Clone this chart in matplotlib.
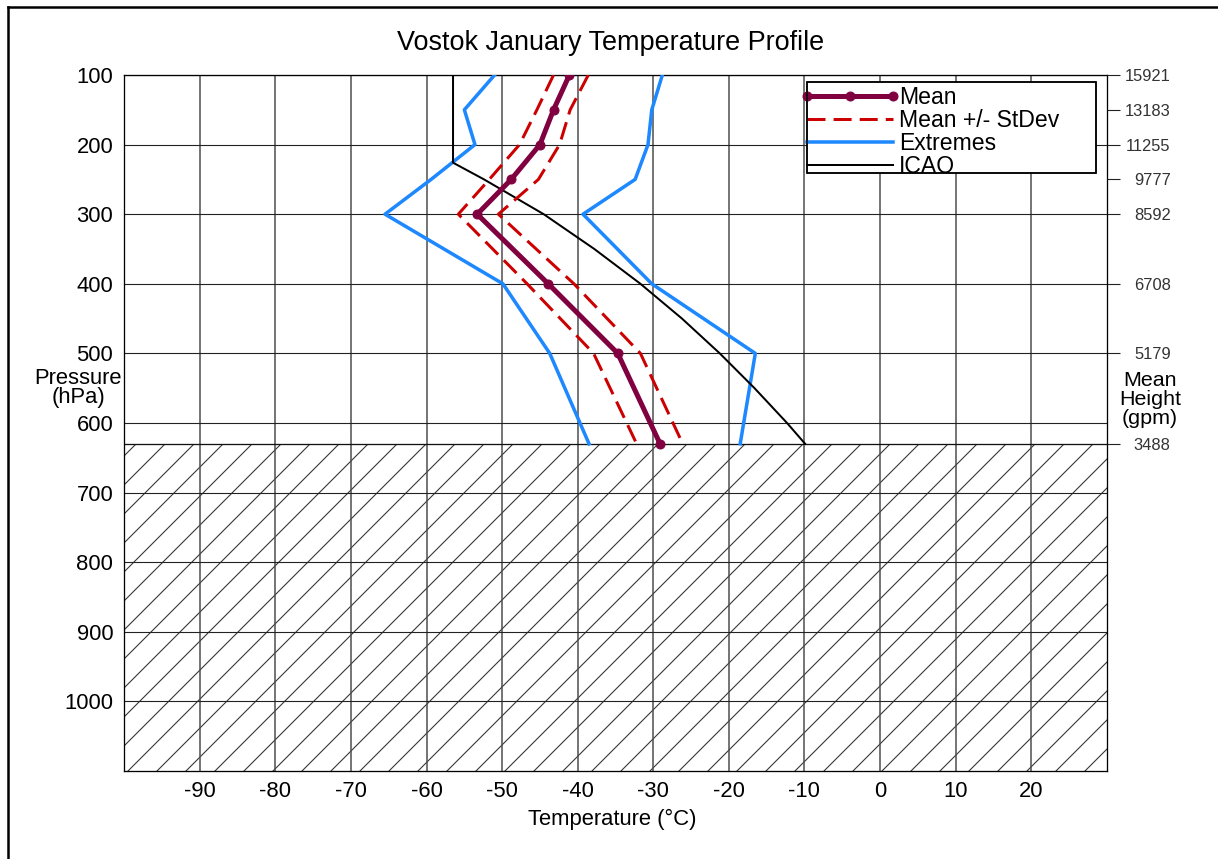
import matplotlib
matplotlib.use('Agg')
import matplotlib.pyplot as plt
from matplotlib.lines import Line2D
from matplotlib.patches import Rectangle
from matplotlib.legend_handler import HandlerLine2D
from matplotlib.transforms import Bbox, TransformedBbox

W, H = 1218, 859
DPI = 174

plt.rcParams['font.family'] = ['Liberation Sans', 'DejaVu Sans']
plt.rcParams['axes.unicode_minus'] = False
plt.rcParams['hatch.linewidth'] = 0.45
plt.rcParams['hatch.color'] = '#333333'


def pt(px):
    return px * 72.0 / DPI


# ---------------- data ----------------
levels = [100, 150, 200, 250, 300, 400, 500, 630]
height_labels = ['15921', '13183', '11255', '9777', '8592', '6708', '5179', '3488']
mean_t = [-41.1, -43.2, -45.0, -48.8, -53.3, -43.9, -34.7, -29.1]
sd_low = [-43.2, -45.4, -47.7, -51.7, -55.8, -46.7, -37.9, -32.2]
sd_high = [-38.6, -41.0, -42.4, -45.2, -50.5, -40.5, -31.7, -26.1]
ext_low = [-51.0, -55.0, -53.6, -59.4, -65.5, -49.9, -43.7, -38.5]
ext_high = [-28.8, -30.2, -30.7, -32.4, -39.3, -30.2, -16.5, -18.5]
icao_p = [100, 226, 250, 300, 350, 400, 450, 500, 550, 600, 630]
icao_t = [-56.5, -56.5, -52.4, -44.5, -37.8, -31.7, -26.2, -21.2, -16.6, -12.3, -9.9]
surface_p = 630
temp_ticks = [-90, -80, -70, -60, -50, -40, -30, -20, -10, 0, 10, 20]
pres_ticks = [100, 200, 300, 400, 500, 600, 700, 800, 900, 1000]
xlim = (-100, 30)
ylim = (1100, 100)

MEAN_C = '#800040'
SD_C = '#CC0000'
EXT_C = '#1E88FF'

# ---------------- figure ----------------
fig = plt.figure(figsize=(7.0, 4.9368), dpi=DPI)
ax_l, ax_r, ax_t, ax_b = 124.3, 1106.7, 75.0, 771.0
ax = fig.add_axes([ax_l / W, 1 - ax_b / H, (ax_r - ax_l) / W, (ax_b - ax_t) / H])
ax.set_xlim(*xlim)
ax.set_ylim(*ylim)

# grid
for t in temp_ticks:
    ax.axvline(t, color='#4a4a4a', lw=pt(1.5), zorder=1)
for p in pres_ticks:
    ax.axhline(p, color='#222222', lw=pt(1.1), zorder=1)

# underground hatched region
ax.axhspan(surface_p, ylim[0], facecolor='none', edgecolor='#333333',
           hatch='//', linewidth=0, zorder=0.5)
ax.axhline(surface_p, color='#111111', lw=pt(1.3), zorder=1.5)

# series
ax.plot(ext_low, levels, color=EXT_C, lw=pt(3.5), zorder=3)
ax.plot(ext_high, levels, color=EXT_C, lw=pt(3.5), zorder=3)
ax.plot(icao_t, icao_p, color='black', lw=pt(2), zorder=3.5)
ax.plot(sd_low, levels, color=SD_C, lw=pt(3), dashes=(6, 2.7), zorder=4)
ax.plot(sd_high, levels, color=SD_C, lw=pt(3), dashes=(6, 2.7), zorder=4)
ax.plot(mean_t, levels, color=MEAN_C, lw=pt(5), marker='o', ms=pt(9),
        mew=pt(1), zorder=5)

# ticks
ax.set_xticks(temp_ticks)
ax.set_xticklabels([str(t) for t in temp_ticks])
ax.set_yticks(pres_ticks)
ax.set_yticklabels([str(p) for p in pres_ticks])
ax.tick_params(axis='both', length=0, labelsize=pt(22))
ax.tick_params(axis='x', pad=pt(10))
ax.tick_params(axis='y', pad=pt(11))
for s in ax.spines.values():
    s.set_linewidth(pt(1.3))
    s.set_color('black')

ax2 = ax.twinx()
ax2.set_ylim(*ylim)
ax2.set_yticks(levels)
ax2.set_yticklabels(height_labels)
ax2.tick_params(axis='y', length=pt(13), width=pt(1.1), color='#222222',
                labelsize=pt(16.5), labelcolor='#333333', pad=pt(51))
for lbl in ax2.get_yticklabels():
    lbl.set_horizontalalignment('right')
for s in ax2.spines.values():
    s.set_visible(False)

# legend box (fixed size, as in the reference)
bx0, by0, bx1, by1 = 806.7, 81.7, 1095.7, 173.3
box = Rectangle((bx0 / W, 1 - by1 / H), (bx1 - bx0) / W, (by1 - by0) / H,
                transform=fig.transFigure, facecolor='white', edgecolor='black',
                lw=pt(1.5), zorder=11, clip_on=False)
ax2.add_patch(box)
# draw the border again on top so text is clipped visually
border = Rectangle((bx0 / W, 1 - by1 / H), (bx1 - bx0) / W, (by1 - by0) / H,
                   transform=fig.transFigure, facecolor='none', edgecolor='black',
                   lw=pt(1.5), zorder=13, clip_on=False)
ax2.add_patch(border)

handles = [
    Line2D([], [], color=MEAN_C, lw=pt(5), marker='o', ms=pt(9), mew=pt(1)),
    Line2D([], [], color=SD_C, lw=pt(3), dashes=(6, 2.7)),
    Line2D([], [], color=EXT_C, lw=pt(3.5)),
    Line2D([], [], color='black', lw=pt(2)),
]
labels = ['Mean', 'Mean +/- StDev', 'Extremes', 'ICAO']
leg = ax2.legend(handles, labels, loc='upper left',
                 bbox_to_anchor=(bx0 / W, 1 - 86.0 / H), bbox_transform=fig.transFigure,
                 borderaxespad=0, borderpad=0, labelspacing=0.0, handlelength=3.74,
                 handletextpad=0.26, fontsize=pt(23), numpoints=3, frameon=False,
                 handler_map={Line2D: HandlerLine2D(marker_pad=0)})
leg.set_zorder(12)
clipbox = TransformedBbox(Bbox.from_extents(bx0 / W, 1 - by1 / H, bx1 / W, 1 - by0 / H),
                          fig.transFigure)
for t in leg.get_texts():
    t.set_clip_box(clipbox)
    t.set_clip_on(True)

# texts
fig.text(611 / W, 1 - 43 / H, 'Vostok January Temperature Profile',
         ha='center', va='center', fontsize=pt(27))
fig.text(78.5 / W, 1 - 388 / H, 'Pressure\n(hPa)', ha='center', va='center',
         fontsize=pt(22), linespacing=0.9)
fig.text(1150 / W, 1 - 399 / H, 'Mean\nHeight\n(gpm)', ha='center', va='center',
         fontsize=pt(21.5), linespacing=1.0)
fig.text(612 / W, 1 - 819 / H, 'Temperature (°C)', ha='center', va='center',
         fontsize=pt(22))

# figure frame (left and top)
fig.add_artist(Line2D([8 / W, 8 / W], [0, 1 - 7 / H], transform=fig.transFigure,
                      color='black', lw=pt(2.5)))
fig.add_artist(Line2D([8 / W, 1], [1 - 7 / H, 1 - 7 / H], transform=fig.transFigure,
                      color='black', lw=pt(2.5)))

fig.savefig('out.png', dpi=DPI, facecolor='white')
